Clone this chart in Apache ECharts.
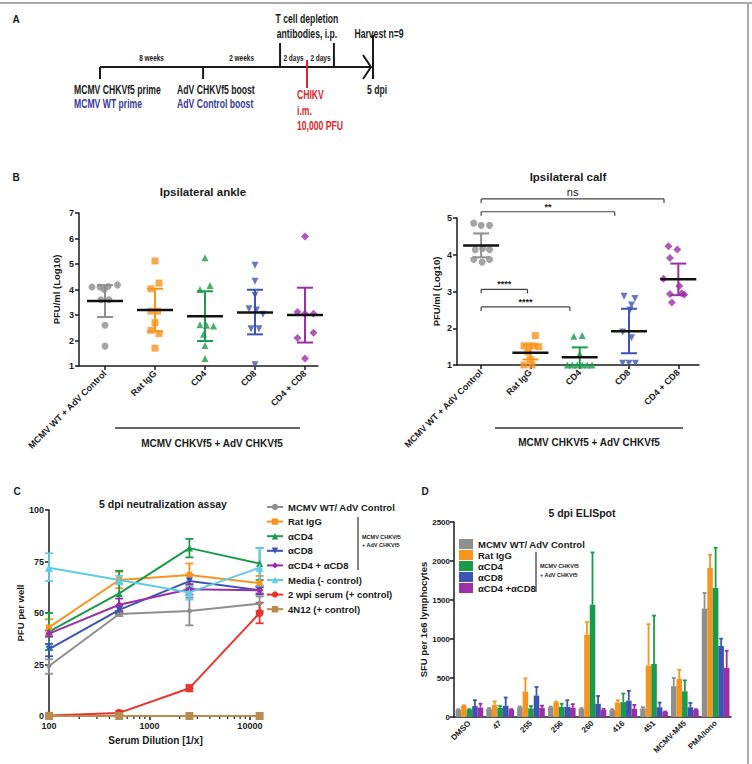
<!DOCTYPE html>
<html>
<head>
<meta charset="utf-8">
<script src="https://cdn.jsdelivr.net/npm/echarts@6/dist/echarts.min.js"></script>
<style>
html,body{margin:0;padding:0;background:#fff}
#wrap{position:relative;width:752px;height:764px}
#wrap div{position:absolute;left:0;top:0;width:752px;height:764px}
</style>
</head>
<body>
<div id="wrap">
  <div id="panelA"></div>
  <div id="panelB"></div>
  <div id="panelC"></div>
  <div id="panelD"></div>
</div>
<script>
// ---------- data ----------
// A: timeline (schematic units, 0 = prime, 100 = harvest)
const stepPos = [0, 37.9, 66.2, 76.1, 86.0, 100];
const stepKind = ['down', 'down', 'up', 'cross', 'up', 'end'];
const gapLabels = ['8 weeks', '2 weeks', '2 days', '2 days'];

// B: scatter groups
const groupNames = ['MCMV WT + AdV Control', 'Rat IgG', 'CD4', 'CD8', 'CD4 + CD8'];
const ankleValues = [
  [4.1, 4.1, 4.12, 4.18, 4.0, 3.6, 3.6, 2.6, 1.78],
  [5.12, 4.25, 4.03, 3.15, 3.15, 2.7, 2.4, 2.27, 1.7],
  [5.25, 4.16, 4.0, 2.62, 2.6, 2.57, 2.25, 1.8, 1.29],
  [4.95, 4.32, 3.77, 3.25, 3.2, 3.03, 2.46, 2.46, 1.05],
  [6.08, 3.12, 3.05, 3.05, 2.3, 2.1, 1.29]
];
const ankleJitter = [
  [-0.26, -0.1, 0.06, 0.25, -0.02, -0.08, 0.08, 0, 0],
  [0, 0.08, -0.08, -0.08, 0.05, 0, -0.08, 0.08, 0],
  [0, 0.1, -0.1, -0.1, 0.03, 0.17, -0.03, 0, 0],
  [0, 0, 0, -0.12, 0.03, 0.16, -0.08, 0.08, 0],
  [0, -0.15, 0, 0.17, 0.17, -0.15, 0]
];
const ankleMean = [3.55, 3.2, 2.95, 3.1, 3.0];
const ankleLow = [2.92, 2.36, 1.98, 2.24, 1.92];
const ankleHigh = [4.17, 4.03, 3.93, 3.99, 4.07];

const calfValues = [
  [4.86, 4.8, 4.8, 4.14, 4.17, 4.14, 3.87, 3.8, 3.87],
  [1.8, 1.52, 1.52, 1.52, 1.5, 1.35, 1.15, 1.0, 1.0],
  [1.8, 1.78, 1.3, 1.0, 1.0, 1.0, 1.0, 1.0, 1.0],
  [2.87, 2.81, 2.63, 2.5, 1.9, 1.74, 1.05, 1.05, 1.05],
  [4.23, 4.14, 3.91, 3.35, 3.15, 2.95, 2.93, 2.92, 2.7]
];
const calfJitter = [
  [-0.15, 0, 0.17, -0.12, 0.03, 0.17, -0.15, 0.02, 0.17],
  [0.1, -0.13, -0.03, 0.07, 0.17, -0.05, 0, -0.13, 0.03],
  [0.05, -0.12, 0, -0.25, -0.15, -0.05, 0.05, 0.15, 0.25],
  [-0.1, 0.12, 0.05, 0.02, -0.13, 0.05, -0.13, 0, 0.13],
  [-0.2, -0.02, -0.17, -0.3, 0.02, 0.07, -0.17, 0.12, -0.13]
];
const calfMean = [4.25, 1.33, 1.21, 1.92, 3.33];
const calfLow = [3.93, 1.15, 1.0, 1.32, 2.9];
const calfHigh = [4.58, 1.54, 1.48, 2.53, 3.76];
// brackets: [from, to, y, text]
const calfSig = [
  [0, 3.71, 5.52, 'ns'],
  [0, 2.71, 5.17, '**'],
  [0, 0.94, 3.06, '****'],
  [0, 1.8, 2.58, '****']
];

// C: neutralization
const dilutions = [100, 500, 2500, 12500];
const cNames = ['MCMV WT/ AdV Control', 'Rat IgG', 'αCD4', 'αCD8', 'αCD4 + αCD8',
  'Media (- control)', '2 wpi serum (+ control)', '4N12 (+ control)'];
const cGray = [24.3, 49.5, 51, 54.5];
const cGrayLo = [20.5, 48.5, 44, 51];
const cGrayHi = [27.5, 50.5, 57.5, 58];
const cOrange = [43, 66, 68.5, 64.5];
const cOrangeLo = [39, 62, 63.5, 61];
const cOrangeHi = [47, 70, 74, 68];
const cGreen = [41, 59.5, 81.5, 74];
const cGreenLo = [32, 50, 77, 66];
const cGreenHi = [50, 70.5, 86, 81.5];
const cBlue = [32.5, 51.5, 65.5, 61];
const cBlueLo = [29, 49.5, 62, 59];
const cBlueHi = [35, 53.5, 68.5, 63];
const cPurple = [40, 54, 61.5, 61];
const cPurpleLo = [38.5, 51, 59, 59.5];
const cPurpleHi = [41.5, 57, 64, 62.5];
const cCyan = [72, 66, 60, 72];
const cCyanLo = [65.5, 64, 56.5, 63];
const cCyanHi = [79, 68, 63, 81.5];
const cRed = [0.3, 1.5, 13.5, 50];
const cRedLo = [0, 0.5, 12, 45];
const cRedHi = [0.6, 2.5, 15, 55];
const cBrown = [0, 0, 0, 0];
const cMinorTicks = [200, 300, 400, 500, 600, 700, 800, 900, 2000, 3000, 4000, 5000, 6000, 7000, 8000, 9000];

// D: ELISpot
const peptides = ['DMSO', '47', '255', '256', '260', '416', '451', 'MCMV-M45', 'PMA/Iono'];
const dNames = ['MCMV WT/ AdV Control', 'Rat IgG', 'αCD4', 'αCD8', 'αCD4 +αCD8'];
const dGray = [90, 105, 125, 125, 105, 90, 110, 395, 1390];
const dGrayTop = [100, 115, 135, 135, 115, 100, 125, 500, 1590];
const dOrange = [145, 155, 325, 185, 1055, 185, 660, 490, 1910];
const dOrangeTop = [150, 200, 495, 195, 1215, 215, 1190, 605, 2080];
const dGreen = [95, 120, 110, 130, 1440, 190, 680, 330, 1655];
const dGreenTop = [100, 140, 140, 170, 2110, 300, 1300, 470, 2170];
const dBlue = [140, 145, 275, 130, 170, 210, 125, 125, 910];
const dBlueTop = [215, 250, 385, 215, 270, 335, 185, 180, 1005];
const dPurple = [120, 95, 115, 120, 90, 105, 65, 90, 630];
const dPurpleTop = [170, 100, 145, 165, 105, 155, 70, 100, 850];

// ---------- styles ----------
const FONT = '"Liberation Sans", Arial, sans-serif';
const INK = '#1a1a1a';
const gray = '#8e8e8e', orange = '#f7941e', green = '#1b9a4c', blue = '#3d54b2', purple = '#9b2fa8';
const cyan = '#5fcbe5', red = '#e8342a', brown = '#b88b4f';
const groupColors = [gray, orange, green, blue, purple];
const groupSymbols = ['circle', 'rect', 'triangle', 'triangle', 'diamond'];
const groupRotate = [0, 0, 0, 180, 0];

function txt(x, y, text, size, opts) {
  return {
    type: 'text', x: x, y: y,
    style: Object.assign({text: text, fill: INK, font: 'bold ' + size + 'px ' + FONT,
      textAlign: 'center', textVerticalAlign: 'middle'}, (opts && opts.style) || {})
  };
}
function hline(x1, y1, x2, y2, color, w) {
  return {type: 'line', shape: {x1: x1, y1: y1, x2: x2, y2: y2}, style: {stroke: color || INK, lineWidth: w || 1.5}};
}
// condensed text for the timeline
function ntext(x, y, text, color, align, size) {
  return {type: 'text', x: x, y: y, scaleX: 0.72,
    style: {x: 0, y: 0, text: text, font: 'bold ' + (size || 12) + 'px ' + FONT, fill: color || INK,
      align: align || 'center', verticalAlign: 'middle'}};
}
function axisFont(size) {
  return {color: INK, fontSize: size, fontWeight: 'bold', fontFamily: FONT};
}
const axisLn = {show: true, onZero: false, lineStyle: {color: INK, width: 1.5}};

// ---------- panel A ----------
const chartA = echarts.init(document.getElementById('panelA'), null, {renderer: 'svg'});
chartA.setOption({
  animation: false,
  grid: {left: 100, width: 272, top: 43, height: 48},
  xAxis: {type: 'value', min: 0, max: 100, show: false},
  yAxis: {type: 'value', min: -1, max: 1, show: false},
  graphic: [
    hline(0, 3, 752, 3, '#aaaaaa', 2),
    hline(748, 3, 748, 764, '#aaaaaa', 2),
    txt(16, 19, 'A', 10),
    txt(16, 177, 'B', 10),
    txt(17, 491, 'C', 10),
    txt(425, 491, 'D', 10)
  ],
  series: [{
    type: 'custom',
    clip: false,
    data: stepPos.map((p, i) => [p, i]),
    renderItem: function (params, api) {
      const i = api.value(1);
      const p = api.coord([api.value(0), 0]);
      const x = p[0], y = p[1];
      const kids = [];
      if (i === 0) {
        const end = api.coord([stepPos[stepPos.length - 1], 0]);
        kids.push(hline(x, y, end[0] - 1, y, INK, 2));
      }
      if (i < gapLabels.length) {
        const nx = api.coord([stepPos[i + 1], 0])[0];
        kids.push(ntext((x + nx) / 2, y - 9, gapLabels[i], INK, 'center', 9));
      }
      const k = stepKind[i];
      if (k === 'down') kids.push(hline(x, y, x, y + 12, INK, 2));
      if (k === 'up') kids.push(hline(x, y, x, y - 24, INK, 2));
      if (k === 'cross') kids.push(hline(x, y - 7, x, y + 21, '#e0262b', 2));
      if (k === 'end') {
        kids.push(hline(x + 1, y - 32, x + 1, y + 12, INK, 2));
        kids.push({type: 'polyline', shape: {points: [[x - 9, y - 12], [x - 1, y], [x - 9, y + 12]]},
          style: {stroke: INK, lineWidth: 2, fill: null}});
      }
      const below = {
        0: [['MCMV CHKVf5 prime', INK], ['MCMV WT prime', '#3b3a9c']],
        1: [['AdV CHKVf5 boost', INK], ['AdV Control boost', '#3b3a9c']],
        3: [['CHIKV', '#e0262b'], ['i.m.', '#e0262b'], ['10,000 PFU', '#e0262b']]
      }[i];
      if (below) {
        const dx = i === 3 ? -10 : -26;
        const y0 = i === 3 ? y + 28 : y + 23;
        const gap = i === 3 ? 15.5 : 14;
        below.forEach((b, j) => kids.push(ntext(x + dx, y0 + j * gap, b[0], b[1], 'left')));
      }
      if (i === 2) {
        const nx = api.coord([stepPos[4], 0])[0];
        kids.push(ntext((x + nx) / 2, y - 48, 'T cell depletion'));
        kids.push(ntext((x + nx) / 2, y - 33, 'antibodies, i.p.'));
      }
      if (i === 5) {
        kids.push(ntext(x + 7, y - 33, 'Harvest n=9'));
        kids.push(ntext(x + 5, y + 23, '5 dpi'));
      }
      return {type: 'group', children: kids};
    }
  }]
});

// ---------- panel B ----------
function meanSd(gridIdx, mean, lo, hi) {
  return {
    type: 'custom', xAxisIndex: gridIdx, yAxisIndex: gridIdx, z: 5, clip: false,
    data: mean.map((m, i) => [i, m, lo[i], hi[i]]),
    renderItem: function (params, api) {
      const i = api.value(0);
      const c = api.coord([i, api.value(1)]);
      const l = api.coord([i, api.value(2)]);
      const h = api.coord([i, api.value(3)]);
      const col = groupColors[i];
      return {type: 'group', children: [
        hline(c[0], h[1], c[0], l[1], col, 2),
        hline(c[0] - 8, h[1], c[0] + 8, h[1], col, 2),
        hline(c[0] - 8, l[1], c[0] + 8, l[1], col, 2),
        hline(c[0] - 18, c[1], c[0] + 18, c[1], '#111', 2.5)
      ]};
    }
  };
}
function dots(gridIdx, values, jitter) {
  return values.map((vals, g) => ({
    type: 'scatter', xAxisIndex: gridIdx, yAxisIndex: gridIdx, z: 3,
    symbol: groupSymbols[g], symbolRotate: groupRotate[g], symbolSize: g === 4 ? 8 : 7,
    itemStyle: {color: groupColors[g]},
    data: vals.map((v, k) => [g + jitter[g][k], v])
  }));
}
function catAxis(gridIdx, min, max) {
  return {
    type: 'value', gridIndex: gridIdx, min: min, max: max,
    axisLine: axisLn,
    axisTick: {show: true, customValues: [0, 1, 2, 3, 4], length: 4, lineStyle: {color: INK, width: 1.5}},
    axisLabel: Object.assign({customValues: [0, 1, 2, 3, 4], rotate: 45, margin: 6,
      formatter: v => groupNames[Math.round(v)]}, axisFont(9)),
    splitLine: {show: false}
  };
}
function logAxisY(gridIdx, min, max, gap) {
  return {
    type: 'value', gridIndex: gridIdx, min: min, max: max, interval: 1,
    name: 'PFU/ml (Log10)', nameLocation: 'middle', nameGap: gap, nameRotate: 90,
    nameTextStyle: axisFont(9.5),
    axisLine: axisLn,
    axisTick: {show: true, length: 4, lineStyle: {color: INK, width: 1.5}},
    axisLabel: Object.assign({margin: 5}, axisFont(9)),
    splitLine: {show: false}
  };
}
const chartB = echarts.init(document.getElementById('panelB'), null, {renderer: 'svg'});
chartB.setOption({
  animation: false,
  grid: [
    {left: 79, top: 213, width: 239, height: 153},
    {left: 457, top: 218, width: 242, height: 147}
  ],
  xAxis: [catAxis(0, -0.52, 4.26), catAxis(1, -0.49, 4.42)],
  yAxis: [logAxisY(0, 1, 7, 18), logAxisY(1, 1, 5, 16)],
  graphic: [
    txt(203, 192, 'Ipsilateral ankle', 11.5),
    txt(568, 177, 'Ipsilateral calf', 11.5),
    hline(115, 428, 300, 428, '#333', 1.3),
    txt(212, 443, 'MCMV CHKVf5 + AdV CHKVf5', 10),
    hline(495, 428, 683, 428, '#333', 1.3),
    txt(589, 442, 'MCMV CHKVf5 + AdV CHKVf5', 10)
  ],
  series: [].concat(
    dots(0, ankleValues, ankleJitter),
    [meanSd(0, ankleMean, ankleLow, ankleHigh)],
    dots(1, calfValues, calfJitter),
    [meanSd(1, calfMean, calfLow, calfHigh)],
    [{
      type: 'custom', xAxisIndex: 1, yAxisIndex: 1, clip: false,
      data: calfSig,
      renderItem: function (params, api) {
        const a = api.coord([api.value(0), api.value(2)]);
        const b = api.coord([api.value(1), api.value(2)]);
        const label = calfSig[params.dataIndex][3];
        return {type: 'group', children: [
          hline(a[0], a[1], b[0], b[1], '#444', 1.2),
          hline(a[0], a[1], a[0], a[1] + 4, '#444', 1.2),
          hline(b[0], b[1], b[0], b[1] + 4, '#444', 1.2),
          {type: 'text', style: {x: (a[0] + b[0]) / 2, y: a[1] - (label === 'ns' ? 7 : 5), text: label,
            font: (label === 'ns' ? '11px ' : 'bold 9px ') + FONT, fill: INK,
            align: 'center', verticalAlign: 'middle'}}
        ]};
      }
    }]
  )
});

// ---------- panel C ----------
const cSeries = [
  [cGray, cGrayLo, cGrayHi, gray, 'circle', 5, 0],
  [cOrange, cOrangeLo, cOrangeHi, orange, 'rect', 6, 0],
  [cGreen, cGreenLo, cGreenHi, green, 'triangle', 7, 0],
  [cBlue, cBlueLo, cBlueHi, blue, 'triangle', 7, 180],
  [cPurple, cPurpleLo, cPurpleHi, purple, 'diamond', 7, 0],
  [cCyan, cCyanLo, cCyanHi, cyan, 'triangle', 8, 0],
  [cRed, cRedLo, cRedHi, red, 'circle', 8, 0],
  [cBrown, cBrown, cBrown, brown, 'rect', 8, 0]
];
const chartC = echarts.init(document.getElementById('panelC'), null, {renderer: 'svg'});
const cLines = cSeries.map((s, k) => ({
  type: 'line', name: cNames[k], z: 3,
  data: dilutions.map((d, i) => [d, s[0][i]]),
  symbol: s[4], symbolSize: s[5], symbolRotate: s[6],
  lineStyle: {color: s[3], width: 2}, itemStyle: {color: s[3]}
}));
const cErrs = cSeries.map((s, k) => ({
  type: 'custom', name: 'err' + k, z: 2, clip: false,
  data: dilutions.map((d, i) => [d, s[1][i], s[2][i]]),
  renderItem: function (params, api) {
    const l = api.coord([api.value(0), api.value(1)]);
    const h = api.coord([api.value(0), api.value(2)]);
    if (Math.abs(l[1] - h[1]) < 1) return {type: 'group', children: []};
    return {type: 'group', children: [
      hline(l[0], l[1], h[0], h[1], s[3], 1.8),
      hline(l[0] - 4, l[1], l[0] + 4, l[1], s[3], 1.8),
      hline(h[0] - 4, h[1], h[0] + 4, h[1], s[3], 1.8)
    ]};
  }
}));
chartC.setOption({
  animation: false,
  grid: {left: 49, top: 510, width: 213, height: 206},
  xAxis: {
    type: 'log', logBase: 10, min: 100, max: 13200,
    name: 'Serum Dilution [1/x]', nameLocation: 'middle', nameGap: 19, nameTextStyle: axisFont(10),
    axisLine: axisLn,
    axisTick: {show: true, customValues: [100, 1000, 10000], length: 4, lineStyle: {color: INK, width: 1.5}},
    axisLabel: Object.assign({customValues: [100, 1000, 10000], margin: 5,
      formatter: v => String(Math.round(v))}, axisFont(9)),
    minorTick: {show: false}, splitLine: {show: false}
  },
  yAxis: {
    type: 'value', min: 0, max: 100, interval: 25,
    name: 'PFU per well', nameLocation: 'middle', nameGap: 22, nameTextStyle: axisFont(9.5),
    axisLine: axisLn,
    axisTick: {show: true, length: 4, lineStyle: {color: INK, width: 1.5}},
    axisLabel: Object.assign({margin: 5}, axisFont(9)),
    splitLine: {show: false}
  },
  legend: {
    orient: 'vertical', left: 266, top: 501, padding: 0, itemWidth: 16, itemHeight: 8, itemGap: 2.6,
    data: cNames, textStyle: Object.assign({lineHeight: 12}, axisFont(9.5))
  },
  graphic: [
    txt(163, 504, '5 dpi neutralization assay', 10.5),
    hline(358, 517, 358, 570, '#333', 1.2),
    txt(362, 537, 'MCMV CHKVf5', 5.5, {style: {textAlign: 'left'}}),
    txt(362, 545, '+ AdV CHKVf5', 5.5, {style: {textAlign: 'left'}})
  ],
  series: [].concat(cErrs, cLines, [{
    type: 'custom', name: 'minor', clip: false,
    data: cMinorTicks.map(v => [v, 0]),
    renderItem: function (params, api) {
      const p = api.coord([api.value(0), 0]);
      return hline(p[0], p[1], p[0], p[1] + 3, INK, 1.2);
    }
  }])
});

// ---------- panel D ----------
const dSeries = [
  [dGray, dGrayTop, gray], [dOrange, dOrangeTop, orange], [dGreen, dGreenTop, green],
  [dBlue, dBlueTop, blue], [dPurple, dPurpleTop, purple]
];
const chartD = echarts.init(document.getElementById('panelD'), null, {renderer: 'svg'});
chartD.setOption({
  animation: false,
  grid: {left: 454, top: 522, width: 277, height: 195},
  xAxis: {
    type: 'category', data: peptides,
    axisLine: axisLn, axisTick: {show: false},
    axisLabel: Object.assign({rotate: 45, margin: 5, interval: 0}, axisFont(8))
  },
  yAxis: {
    type: 'value', min: 0, max: 2500, interval: 500,
    name: 'SFU per 1e6 lymphocytes', nameLocation: 'middle', nameGap: 24, nameTextStyle: axisFont(9.5),
    axisLine: axisLn,
    axisTick: {show: true, length: 4, lineStyle: {color: INK, width: 1.5}},
    axisLabel: Object.assign({margin: 4, formatter: v => String(v)}, axisFont(8)),
    splitLine: {show: false}
  },
  legend: {
    orient: 'vertical', left: 459, top: 538.5, padding: 0, itemWidth: 14, itemHeight: 10, itemGap: 0, icon: 'rect',
    data: dNames, textStyle: Object.assign({lineHeight: 11}, axisFont(9.5))
  },
  graphic: [
    txt(582, 513, '5 dpi ELISpot', 10.5),
    hline(536, 552, 536, 592, '#333', 1.2),
    txt(540, 566, 'MCMV CHKVf5', 5.5, {style: {textAlign: 'left'}}),
    txt(540, 575, '+ AdV CHKVf5', 5.5, {style: {textAlign: 'left'}})
  ],
  series: [].concat(
    dSeries.map((s, k) => ({
      type: 'bar', name: dNames[k], data: s[0], itemStyle: {color: s[2]},
      barGap: '0%', barCategoryGap: '10%'
    })),
    dSeries.map((s, k) => ({
      type: 'custom', name: 'derr' + k, z: 1,
      data: s[0].map((v, i) => [i, v, s[1][i]]),
      renderItem: function (params, api) {
        const band = api.size([1, 0])[0];
        const bw = band * 0.9 / 5;
        const b = api.coord([api.value(0), api.value(1)]);
        const t = api.coord([api.value(0), api.value(2)]);
        const x = b[0] + (k - 2) * bw;
        return {type: 'group', children: [
          hline(x, b[1], x, t[1], s[2], 1.8),
          hline(x - bw * 0.35, t[1], x + bw * 0.35, t[1], s[2], 1.8)
        ]};
      }
    }))
  )
});
</script>
</body>
</html>
